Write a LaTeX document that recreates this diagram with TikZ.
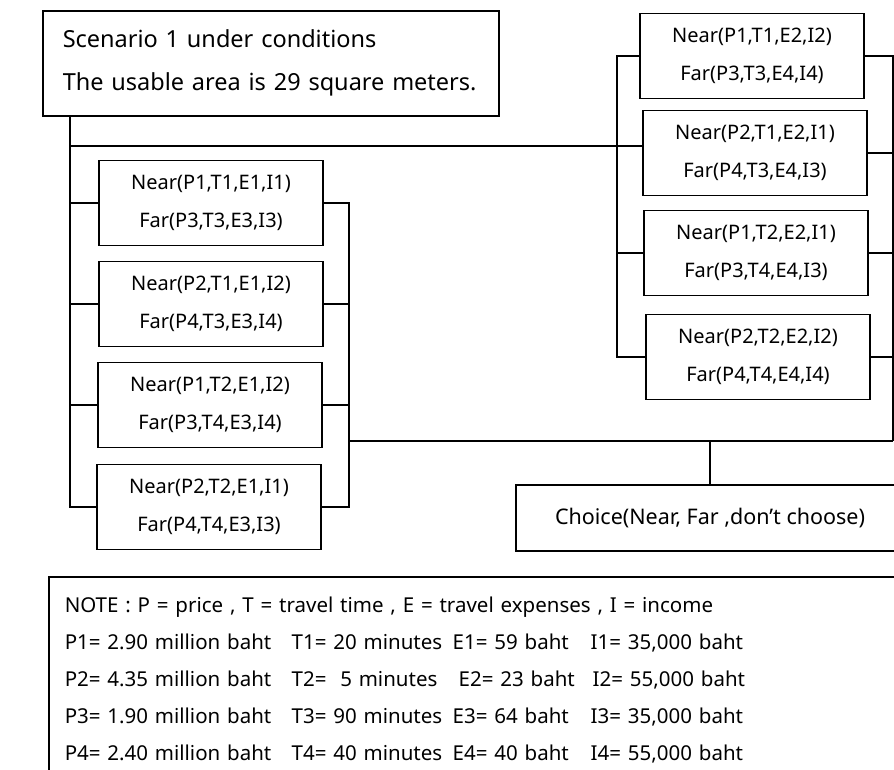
\documentclass[tikz,border=0pt]{standalone}
\usepackage{fontspec}
\setmainfont{Noto Sans}
\usetikzlibrary{positioning}

\newcommand{\noteline}[4]{%
  \makebox[227pt][l]{#1}\makebox[161pt][l]{#2}\makebox[138pt][l]{#3}#4}

\begin{document}
\begin{tikzpicture}[
    x=1pt, y=-1pt,
    every node/.style={font=\fontsize{20}{38}\selectfont},
    option/.style={
      draw,
      line width=1.5pt,
      minimum width=224pt,
      minimum height=85pt,
      align=center
    },
    link/.style={line width=1.5pt}
  ]

  \clip (0,0) rectangle (894,769);

  % scenario {{{
  \node[
    draw,
    line width=1.5pt,
    anchor=north west,
    minimum width=456pt,
    minimum height=105pt,
    text width=416pt,
    inner xsep=20pt,
    align=left,
    font=\fontsize{23.5}{43}\selectfont
  ] (scenario) at (42,10)
  {Scenario 1 under conditions\\The usable area is 29 square meters.};
  % }}}

  % left options {{{
  \node[option] (l1) at (211,203) {Near(P1,T1,E1,I1)\\Far(P3,T3,E3,I3)};
  \node[option] (l2) at (211,304) {Near(P2,T1,E1,I2)\\Far(P4,T3,E3,I4)};
  \node[option] (l3) at (210,405) {Near(P1,T2,E1,I2)\\Far(P3,T4,E3,I4)};
  \node[option] (l4) at (209,507) {Near(P2,T2,E1,I1)\\Far(P4,T4,E3,I3)};
  % }}}

  % right options {{{
  \node[option] (r1) at (752,56)  {Near(P1,T1,E2,I2)\\Far(P3,T3,E4,I4)};
  \node[option] (r2) at (755,153) {Near(P2,T1,E2,I1)\\Far(P4,T3,E4,I3)};
  \node[option] (r3) at (756,253) {Near(P1,T2,E2,I1)\\Far(P3,T4,E4,I3)};
  \node[option] (r4) at (758,357) {Near(P2,T2,E2,I2)\\Far(P4,T4,E4,I4)};
  % }}}

  % choice {{{
  \node[
    draw,
    line width=1.5pt,
    minimum width=388pt,
    minimum height=66pt,
    font=\fontsize{21.5}{26}\selectfont
  ] (choice) at (710,518)
  {Choice(Near, Far ,don’t choose)};
  % }}}

  % connectors {{{
  \coordinate (trunk) at (70,146);
  \coordinate (rtrunk) at (617,146);
  \coordinate (lmerge) at (349,441);
  \coordinate (rmerge) at (893,441);

  \draw[link] (scenario.south -| trunk) |- (l4.west);
  \foreach \b in {l1,l2,l3}
    \draw[link] (\b.west) -- (\b.west -| trunk);
  \draw[link] (trunk) -- (trunk -| r2.west);

  \draw[link] (r1.west) -- (r1.west -| rtrunk) |- (r4.west);
  \draw[link] (r3.west) -- (r3.west -| rtrunk);

  \draw[link] (l1.east) -- (l1.east -| lmerge) |- (l4.east);
  \foreach \b in {l2,l3}
    \draw[link] (\b.east) -- (\b.east -| lmerge);

  \draw[link] (r1.east) -- (r1.east -| rmerge) -- (rmerge);
  \foreach \b in {r2,r3,r4}
    \draw[link] (\b.east) -- (\b.east -| rmerge);

  \draw[link] (lmerge) -- (rmerge);
  \draw[link] (choice.north) -- (choice.north |- lmerge);
  % }}}

  % note {{{
  \node[
    draw,
    line width=1.5pt,
    anchor=north west,
    text width=860pt,
    inner xsep=16pt,
    inner ysep=20pt,
    align=left,
    font=\fontsize{20.5}{37}\selectfont
  ] (note) at (48,576)
  {NOTE : P = price , T = travel time , E = travel expenses , I = income\\
   \noteline{P1= 2.90 million baht}{T1= 20 minutes}{E1= 59 baht}{I1= 35,000 baht}\\
   \noteline{P2= 4.35 million baht}{T2=\ \ 5 minutes}{\hspace{6pt}E2= 23 baht}{\hspace{2pt}I2= 55,000 baht}\\
   \noteline{P3= 1.90 million baht}{T3= 90 minutes}{E3= 64 baht}{I3= 35,000 baht}\\
   \noteline{P4= 2.40 million baht}{T4= 40 minutes}{E4= 40 baht}{I4= 55,000 baht}};
  % }}}

\end{tikzpicture}
\end{document}
